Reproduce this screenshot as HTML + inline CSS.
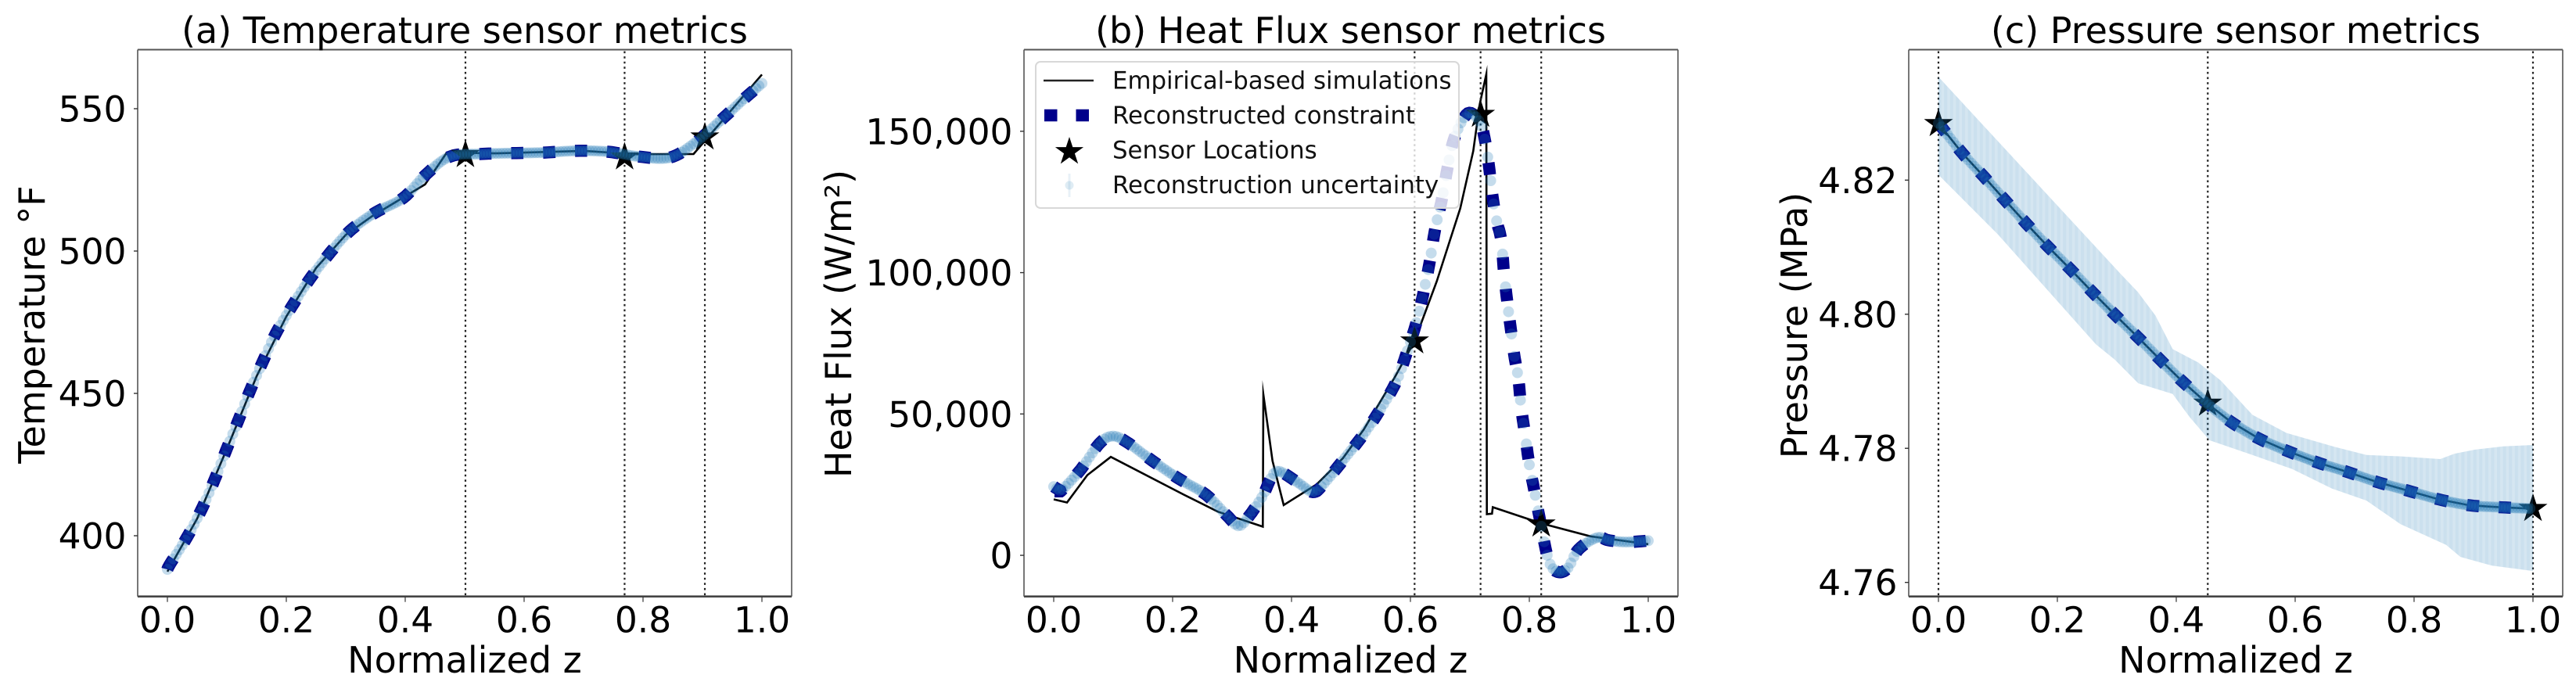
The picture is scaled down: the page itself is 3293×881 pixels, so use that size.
<!DOCTYPE html>
<html lang="en">
<head>
<meta charset="utf-8">
<title>Sensor metrics</title>
<style>
html,body{margin:0;padding:0;background:#fff;width:3293px;height:881px;overflow:hidden}
svg{display:block}
text{font-family:"DejaVu Sans","Liberation Sans",sans-serif;fill:#000}
.title,.axis-label{font-size:46px}
.tick{font-size:45.5px}
.leg{font-size:30.8px;fill:#111}
</style>
</head>
<body>
<svg id="chart" xmlns="http://www.w3.org/2000/svg" width="3293" height="881" viewBox="0 0 3293 881">
  <defs>
    <pattern id="stripes" width="7.6" height="20" patternUnits="userSpaceOnUse">
      <rect width="7.6" height="20" fill="#1f77b4" fill-opacity="0.19"></rect>
      <rect width="4" height="20" fill="#1f77b4" fill-opacity="0.06"></rect>
    </pattern>
  </defs>
  <rect width="3293" height="881" fill="#fff"></rect>

  <g id="panel-a"></g>
  <g id="panel-b"></g>
  <g id="panel-c"></g>

  <text class="title" x="594" y="55" text-anchor="middle">(a) Temperature sensor metrics</text>
  <text class="title" x="1726.5" y="55" text-anchor="middle">(b) Heat Flux sensor metrics</text>
  <text class="title" x="2858" y="55" text-anchor="middle">(c) Pressure sensor metrics</text>

  <text class="axis-label" x="594" y="860" text-anchor="middle">Normalized z</text>
  <text class="axis-label" x="1726.5" y="860" text-anchor="middle">Normalized z</text>
  <text class="axis-label" x="2858" y="860" text-anchor="middle">Normalized z</text>

  <text class="axis-label" transform="translate(57 415) rotate(-90)" text-anchor="middle">Temperature °F</text>
  <text class="axis-label" transform="translate(1088 414) rotate(-90)" text-anchor="middle">Heat Flux (W/m²)</text>
  <text class="axis-label" transform="translate(2310 416) rotate(-90)" text-anchor="middle">Pressure (MPa)</text>

  <g id="legend">
    <rect x="1324" y="79" width="541" height="187" rx="6" ry="6" fill="#fff" fill-opacity="0.8" stroke="#d8d8d8" stroke-width="2"></rect>
    <line x1="1334" y1="103" x2="1398" y2="103" stroke="#222" stroke-width="2.5"></line>
    <line x1="1335" y1="147.5" x2="1398" y2="147.5" stroke="#00008b" stroke-width="15.5" stroke-dasharray="16.5 24"></line>
    <polygon id="legend-star" fill="#000"></polygon>
    <line x1="1367" y1="222" x2="1367" y2="252" stroke="#1f77b4" stroke-opacity="0.1" stroke-width="3"></line>
    <circle cx="1367" cy="237" r="5.5" fill="#1f77b4" fill-opacity="0.14"></circle>
    <text class="leg" x="1422" y="113.5">Empirical-based simulations</text>
    <text class="leg" x="1422" y="158">Reconstructed constraint</text>
    <text class="leg" x="1422" y="202.5">Sensor Locations</text>
    <text class="leg" x="1422" y="247">Reconstruction uncertainty</text>
  </g>
</svg>

<script>
// ---------- shared x axis ----------
var xTicks = [0, 0.2, 0.4, 0.6, 0.8, 1.0];
var xTickLabels = ['0.0', '0.2', '0.4', '0.6', '0.8', '1.0'];

// ---------- (a) temperature ----------
var tempYTicks = [400, 450, 500, 550];
var tempYLabels = ['400', '450', '500', '550'];
var tempReconZ = [0, .0046, .033, .0575, .079, .0986, .1187, .138, .1599, .1817, .2095, .2379, .2705, .3066, .3495, .3965, .4334, .4754, .5274, .5803, .634, .6876, .7405, .7925, .8446, .8866, .9301, .9696, 1.0];
var tempRecon = [388.2, 390.1, 399.5, 409.3, 419.5, 429.9, 440.2, 450.5, 460.9, 470.8, 480.6, 489.7, 498.6, 507, 513.5, 518.6, 526.6, 533.2, 534.1, 534.4, 534.6, 535.2, 534.9, 533.2, 532.8, 537.9, 545.8, 553.4, 558.9];
var tempSimZ = [0, .05, .1, .15, .2, .25, .3, .344, .4334, .47, .55, .7, .79, .885, 1.0];
var tempSim = [387.4, 406, 430.5, 456, 477, 494, 505.7, 512.2, 523.4, 534.6, 534.3, 535.2, 534, 534.1, 562];
var tempSensorZ = [.5013, .769, .904];
var tempSensorV = [533.8, 533, 540];

// ---------- (b) heat flux ----------
var fluxYTicks = [0, 50000, 100000, 150000];
var fluxYLabels = ['0', '50,000', '100,000', '150,000'];
var fluxReconZ = [0, .0105, .0149, .0456, .0763, .0983, .1224, .1662, .2101, .2562, .2912, .311, .3276, .3513, .3658, .3789, .4118, .436, .4535, .4877, .5206, .55, .5763, .5938, .6105, .6224, .6329, .6416, .6532, .6628, .6743, .6966, .7168, .7255, .7322, .7382, .7447, .7526, .7574, .7632, .769, .7747, .7816, .7863, .7932, .8, .8094, .819, .8297, .8384, .851, .8655, .8829, .9138, .933, .9618, 1.0];
var fluxRecon = [24300, 23000, 23290, 30390, 39410, 42180, 40140, 33420, 27160, 21450, 14090, 10410, 13620, 20990, 27430, 29750, 25600, 22370, 25140, 33890, 42620, 51840, 61510, 71620, 82680, 93290, 104330, 115380, 126240, 137480, 147870, 156340, 153120, 146680, 137480, 126880, 118590, 111690, 100190, 89140, 79920, 70720, 62430, 52290, 42180, 32040, 21910, 11330, 280, -4340, -5990, -4340, 2130, 6270, 5330, 4700, 5170];
var fluxSimZ = [0, .0224, .0566, .096, .2188, .2759, .3517, .3526, .368, .3868, .4425, .4864, .5214, .5737, .6068, .6443, .6838, .7057, .7167, .7276, .7285, .7372, .7386, .8197, .903, 1.0];
var fluxSim = [19800, 18700, 28370, 34810, 21450, 15470, 10140, 56910, 33420, 17770, 25140, 34340, 44480, 62980, 75770, 96960, 122730, 143000, 159700, 170170, 14560, 14730, 17040, 11330, 6720, 3950];
var fluxSensorZ = [.607, .718, .82];
var fluxSensorV = [75770, 155890, 11000];

// ---------- (c) pressure ----------
var presYTicks = [4.76, 4.78, 4.80, 4.82];
var presYLabels = ['4.76', '4.78', '4.80', '4.82'];
var presReconZ = [0, .0403, .0766, .112, .148, .184, .222, .259, .296, .334, .372, .41, .452, .491, .538, .587, .637, .687, .737, .789, .841, .893, .947, 1.0];
var presRecon = [4.8285, 4.8240, 4.8205, 4.8170, 4.8135, 4.8101, 4.8067, 4.8033, 4.8000, 4.7967, 4.7933, 4.7900, 4.7867, 4.7840, 4.7815, 4.7796, 4.7779, 4.7765, 4.7750, 4.7737, 4.7724, 4.7715, 4.7712, 4.7710];
var presUpperZ = [0, .3065, .3355, .365, .394, .437, .475, .528, .585, .667, .72, .777, .844, .868, .902, .95, 1.0];
var presUpper = [4.8354, 4.8060, 4.8033, 4.7998, 4.7948, 4.7928, 4.7901, 4.7850, 4.7823, 4.7802, 4.7790, 4.7788, 4.7784, 4.7792, 4.7798, 4.7803, 4.7805];
var presLowerZ = [0, .1, .265, .297, .336, .394, .423, .456, .528, .595, .662, .72, .777, .854, .878, .931, 1.0];
var presLower = [4.8208, 4.8119, 4.7955, 4.7932, 4.7897, 4.7881, 4.7846, 4.7812, 4.7790, 4.7769, 4.7740, 4.7722, 4.7687, 4.7656, 4.7638, 4.7625, 4.7617];
var presSensorZ = [0, .453, 1.0];
var presSensorV = [4.8284, 4.7867, 4.7710];

var NS = 'http://www.w3.org/2000/svg';
function make(parent, tag, attrs) {
  var el = document.createElementNS(NS, tag);
  for (var k in attrs) { el.setAttribute(k, attrs[k]); }
  parent.appendChild(el);
  return el;
}
function linearScale(d0, d1, r0, r1) {
  return function (v) { return r0 + (v - d0) * (r1 - r0) / (d1 - d0); };
}
function starPoints(cx, cy, R) {
  var pts = [];
  for (var i = 0; i < 10; i++) {
    var r = i % 2 ? R * 0.382 : R;
    var a = -Math.PI / 2 + i * Math.PI / 5;
    pts.push((cx + r * Math.cos(a)).toFixed(1) + ',' + (cy + r * Math.sin(a)).toFixed(1));
  }
  return pts.join(' ');
}
function toPixels(zs, vs, sx, sy) {
  return zs.map(function (z, i) { return [sx(z), sy(vs[i])]; });
}
function smooth(p) {
  var out = [];
  for (var i = 0; i < p.length - 1; i++) {
    var a = p[Math.max(i - 1, 0)], b = p[i], c = p[i + 1], d = p[Math.min(i + 2, p.length - 1)];
    for (var s = 0; s < 8; s++) {
      var t = s / 8, t2 = t * t, t3 = t2 * t;
      out.push([
        0.5 * (2 * b[0] + (c[0] - a[0]) * t + (2 * a[0] - 5 * b[0] + 4 * c[0] - d[0]) * t2 + (3 * b[0] - a[0] - 3 * c[0] + d[0]) * t3),
        0.5 * (2 * b[1] + (c[1] - a[1]) * t + (2 * a[1] - 5 * b[1] + 4 * c[1] - d[1]) * t2 + (3 * b[1] - a[1] - 3 * c[1] + d[1]) * t3)
      ]);
    }
  }
  out.push(p[p.length - 1]);
  return out;
}
function ptStr(p) {
  return p.map(function (q) { return q[0].toFixed(1) + ',' + q[1].toFixed(1); }).join(' ');
}

function drawPanel(id, box, xDomain, yDomain, yTicks, yLabels, sim, recon, sensors, band) {
  var root = document.getElementById(id);
  var sx = linearScale(xDomain[0], xDomain[1], box.left, box.right);
  var sy = linearScale(yDomain[0], yDomain[1], box.bottom, box.top);

  var simLine = make(root, 'polyline', { points: ptStr(toPixels(sim.z, sim.v, sx, sy)), fill: 'none', stroke: '#000', 'stroke-width': 2.6, 'stroke-linejoin': 'miter', 'stroke-miterlimit': 20 });
  
  

  sensors.z.forEach(function (z) {
    var vl = make(root, 'line', { x1: sx(z), x2: sx(z), y1: box.top + 2, y2: box.bottom, stroke: '#222', 'stroke-width': 2.2, 'stroke-dasharray': '2.6 4' });
    
    
  });

  var dense = smooth(toPixels(recon.z, recon.v, sx, sy));
  var dash = make(root, 'polyline', { points: ptStr(dense), fill: 'none', stroke: '#00008b', 'stroke-width': 15.5, 'stroke-dasharray': '15.5 25.3' });
  
  

  sensors.z.forEach(function (z, i) {
    var st = make(root, 'polygon', { points: starPoints(sx(z), sy(sensors.v[i]), 19.5), fill: '#000' });
    
    
  });

  if (band) {
    var up = toPixels(band.upZ, band.up, sx, sy);
    var lo = toPixels(band.loZ, band.lo, sx, sy).reverse();
    var poly = make(root, 'polygon', { points: ptStr(up.concat(lo)), fill: 'url(#stripes)' });
    
    
  }

  // translucent uncertainty dots, evenly spaced in z along the reconstruction
  var nextX = dense[0][0];
  for (var i = 0; i < dense.length - 1; i++) {
    var a = dense[i], b = dense[i + 1];
    while (nextX <= b[0] && b[0] > a[0]) {
      var t = (nextX - a[0]) / (b[0] - a[0]);
      var dot = make(root, 'circle', { cx: nextX.toFixed(1), cy: (a[1] + (b[1] - a[1]) * t).toFixed(1), r: 7, fill: '#1f77b4', 'fill-opacity': 0.26 });
      
      
      nextX += 3.8;
    }
  }

  // spines
  [['spine-top', box.left, box.top, box.right, box.top, 2, '#555'],
   ['spine-bottom', box.left, box.bottom, box.right, box.bottom, 2.6, '#444'],
   ['spine-left', box.left, box.top, box.left, box.bottom, 1.6, '#555'],
   ['spine-right', box.right, box.top, box.right, box.bottom, 1.6, '#555']].forEach(function (s) {
    var sp = make(root, 'line', { x1: s[1], y1: s[2], x2: s[3], y2: s[4], 'stroke-width': s[5], stroke: s[6] });
    
    
  });

  xTicks.forEach(function (tv, i) {
    var tk = make(root, 'line', { x1: sx(tv), x2: sx(tv), y1: box.bottom, y2: box.bottom + 7, stroke: '#333', 'stroke-width': 1.2 });
    
    
    var lb = make(root, 'text', { x: sx(tv), y: 808.5, 'text-anchor': 'middle', 'class': 'tick' });
    
    
    lb.textContent = xTickLabels[i];
  });
  yTicks.forEach(function (tv, i) {
    var tk = make(root, 'line', { x1: box.left - 5, x2: box.left, y1: sy(tv), y2: sy(tv), stroke: '#333', 'stroke-width': 1.4 });
    
    
    var lb = make(root, 'text', { x: box.left - 14.5, y: sy(tv) + 16.5, 'text-anchor': 'end', 'class': 'tick' });
    
    
    lb.textContent = yLabels[i];
  });
}

var xDomain = [-0.05, 1.05];
drawPanel('panel-a', { left: 176, right: 1012, top: 63.5, bottom: 762.7 }, xDomain, [378.66, 570.74],
  tempYTicks, tempYLabels,
  { z: tempSimZ, v: tempSim }, { z: tempReconZ, v: tempRecon }, { z: tempSensorZ, v: tempSensorV }, null);
drawPanel('panel-b', { left: 1309, right: 2145, top: 63.5, bottom: 762.7 }, xDomain, [-14558, 178867],
  fluxYTicks, fluxYLabels,
  { z: fluxSimZ, v: fluxSim }, { z: fluxReconZ, v: fluxRecon }, { z: fluxSensorZ, v: fluxSensorV }, null);
drawPanel('panel-c', { left: 2440, right: 3276, top: 63.5, bottom: 762.7 }, xDomain, [4.7579, 4.83946],
  presYTicks, presYLabels,
  { z: presReconZ, v: presRecon }, { z: presReconZ, v: presRecon }, { z: presSensorZ, v: presSensorV },
  { upZ: presUpperZ, up: presUpper, loZ: presLowerZ, lo: presLower });

document.getElementById('legend-star').setAttribute('points', starPoints(1367, 194, 19));
</script>
</body>
</html>
